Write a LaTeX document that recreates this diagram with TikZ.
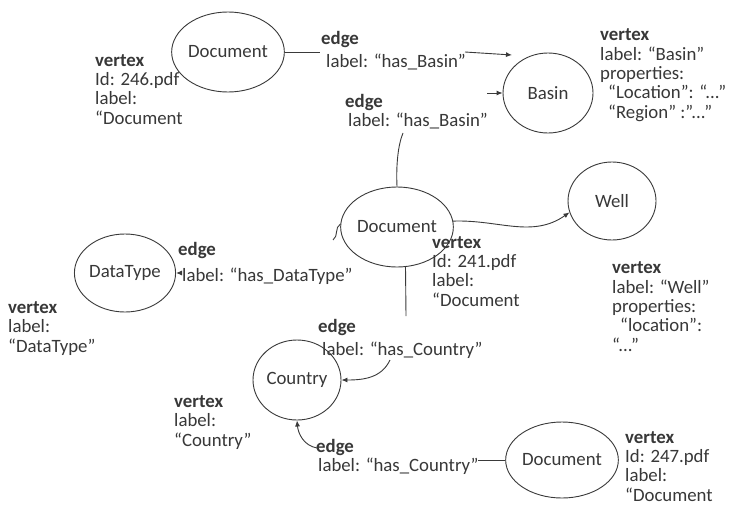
\documentclass[tikz,border=0pt]{standalone}
\usepackage{fontspec}
\setmainfont{Carlito}
\usetikzlibrary{shapes.geometric,arrows.meta}
\definecolor{txt}{HTML}{383838}
\definecolor{ln}{HTML}{3A3A3A}
\newcommand\infofont{\fontsize{18.8}{19.3}\selectfont}
\begin{document}
\begin{tikzpicture}[x=1pt,y=-1pt,
  vtx/.style={draw=ln, line width=0.9pt, ellipse, inner sep=0pt, font=\infofont, text=txt},
  info/.style={anchor=base west, align=left, inner sep=0pt, font=\infofont, text=txt},
  conn/.style={draw=ln, line width=0.9pt},
  arr/.style={conn, -{Latex[length=6pt,width=5pt]}}]
\fill[white] (0,0) rectangle (735,506);
\useasboundingbox (0,0) rectangle (735,506);

% vertices
\node[vtx, minimum width=88pt, minimum height=80pt] (doc1) at (228,52) {Document};
\node[vtx, minimum width=90pt, minimum height=80pt] (basin) at (548,93) {Basin};
\node[vtx, minimum width=88pt, minimum height=80pt] (doc2) at (397,227) {Document};
\node[vtx, minimum width=88pt, minimum height=78pt] (well) at (612,201) {Well};
\node[vtx, minimum width=86pt, minimum height=78pt] (dtype) at (125,273) {DataType};
\node[vtx, minimum width=88pt, minimum height=80pt] (country) at (297,380) {Country};
\node[vtx, minimum width=82pt, minimum height=76pt] (doc3) at (562,460) {Document};

% texts (anchor = baseline of the last line)
\node[info] (v1) at (95,124) {\textbf{vertex}\\Id: 246.pdf\\label:\\“Document};
\node[info] (e1a) at (321,44) {\textbf{edge}};
\node[info] (e1b) at (326,67) {label: “has\_Basin”};
\node[info] (e2a) at (345,107) {\textbf{edge}};
\node[info] (e2b) at (348,126) {label: “has\_Basin”};
\node[info] (vb) at (600,118) {\textbf{vertex}\\label: “Basin”\\properties:\\\hspace*{8pt}“Location”: “...”\\\hspace*{8pt}“Region” :”...”};
\node[info] (vw) at (612,351) {\textbf{vertex}\\label: “Well”\\properties:\\\hspace*{8pt}“location”:\\“...”};
\node[info] (vd2) at (432,306) {\textbf{vertex}\\Id: 241.pdf\\label:\\“Document};
\node[info] (e3a) at (178,255) {\textbf{edge}};
\node[info] (e3b) at (182,281) {label: “has\_DataType”};
\node[info] (vdt) at (8,352) {\textbf{vertex}\\label:\\“DataType”};
\node[info] (e4a) at (318,332) {\textbf{edge}};
\node[info] (e4b) at (322,355) {label: “has\_Country”};
\node[info] (vc) at (174,446) {\textbf{vertex}\\label:\\“Country”};
\node[info] (e5a) at (316,452) {\textbf{edge}};
\node[info] (e5b) at (318,471) {label: “has\_Country”};
\node[info] (vd3) at (625,501) {\textbf{vertex}\\Id: 247.pdf\\label:\\“Document};

% connector free ends
\coordinate (e1s) at (320,52);
\coordinate (a1s) at (465,52);
\coordinate (a1e) at (512,55);
\coordinate (a2s) at (487,93);
\coordinate (l2) at (403,133);
\coordinate (l3) at (333,240);
\coordinate (a3s) at (180,273);
\coordinate (l4) at (406,316);
\coordinate (a4s) at (390,360);
\coordinate (a5s) at (317,448);
\coordinate (l5) at (478,460);

% connectors
\draw[conn] (doc1.east) -- (e1s);
\draw[arr] (a1s) -- (a1e);
\draw[arr] (a2s) -- (basin.west);
\draw[conn] (doc2.north) .. controls (396,165) and (398,145) .. (l2);
\draw[conn] (doc2.177) to[out=-150, in=35] (l3);
\draw[arr] (a3s) -- (dtype.east);
\draw[conn] (doc2.-78) -- (l4);
\draw[arr] (a4s) to[out=-115, in=0] (country.east);
\draw[arr] (a5s) to[out=170, in=-85] (country.south);
\draw[conn] (l5) -- (doc3.west);
\draw[arr] (doc2.6) to[out=2, in=-145] (well.195);
\end{tikzpicture}
\end{document}
